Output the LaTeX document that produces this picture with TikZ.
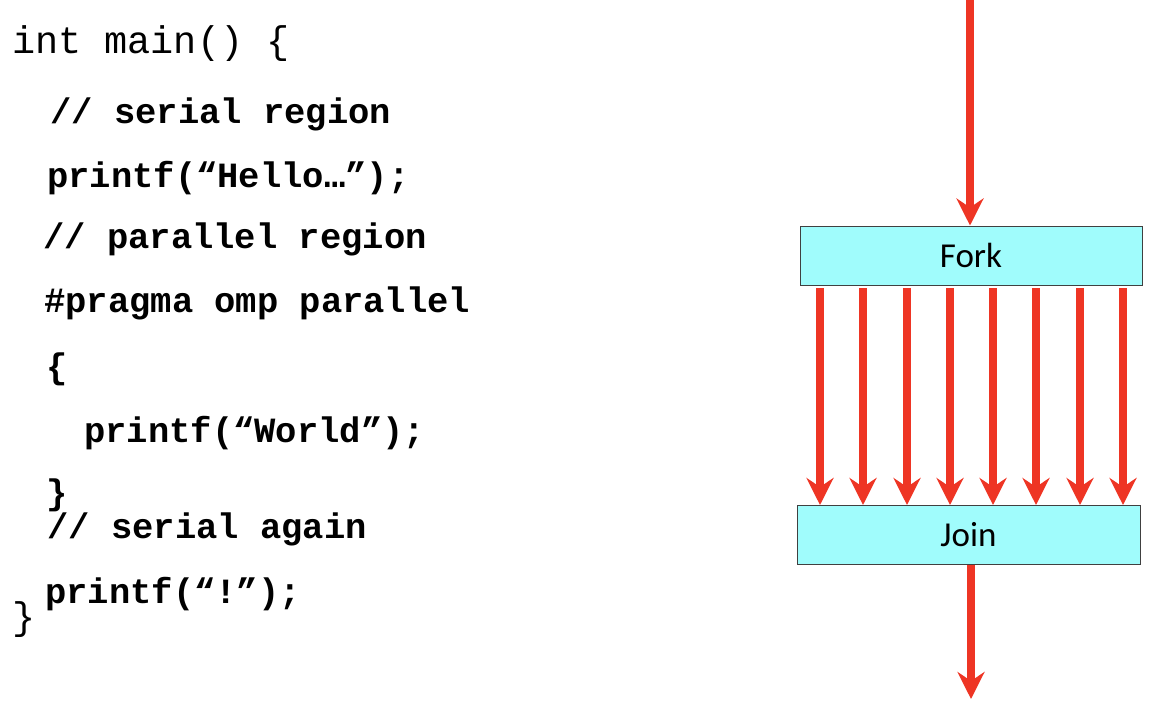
\documentclass[tikz,border=0pt]{standalone}
\usepackage{fontspec}
\setmonofont{Liberation Mono}
\newfontfamily\boxfont{Carlito}
\usetikzlibrary{arrows.meta}
\definecolor{arrred}{HTML}{EE3524}
\definecolor{boxcyan}{HTML}{A0FCFC}
\begin{document}
\begin{tikzpicture}[x=1pt,y=-1pt,
  code/.style={anchor=base west,inner sep=0pt,font=\ttfamily\bfseries\fontsize{35.5}{40}\selectfont},
  codereg/.style={anchor=base west,inner sep=0pt,font=\ttfamily\fontsize{38.5}{44}\selectfont},
  phase/.style={draw=black!75,line width=1pt,fill=boxcyan,minimum height=59pt,inner sep=0pt,font=\boxfont\fontsize{35}{40}\selectfont},
  flow/.style={draw=arrred,line width=8pt,-{Stealth[length=27pt,width=27pt,inset=9pt]}}]
\useasboundingbox (0,0) rectangle (1154,728);
% code
\node[codereg] (l0) at (12,53) {int main() \{};
\node[code] (l1) at (50,123) {// serial region};
\node[code] (l2) at (47,187) {printf(“Hello…”);};
\node[code] (l3) at (43,248) {// parallel region};
\node[code] (l4) at (44,312) {\#pragma omp parallel};
\node[code] (l5) at (46,378) {\{};
\node[code] (l6) at (84,442) {printf(“World”);};
\node[code] (l7) at (46,504) {\}};
\node[code] (l8) at (47,538) {// serial again};
\node[code] (l9) at (45,603) {printf(“!”);};
\node[codereg] (l10) at (12,629) {\}};
% diagram
\node[phase,minimum width=342pt] (fork) at (971,255.5) {Fork};
\node[phase,minimum width=343pt] (join) at (968.5,535) {Join};
\coordinate (start) at (970,0);
\coordinate (end) at (971,699);
\draw[flow] (start) -- (fork.north -| start);
\foreach \x [count=\i] in {820,863,907,950,993,1036,1080,1123}{
  \draw[flow] (\x,288) coordinate (t\i) -- (t\i |- join.north);
}
\draw[flow] (join.south -| end) -- (end);
\end{tikzpicture}
\end{document}
